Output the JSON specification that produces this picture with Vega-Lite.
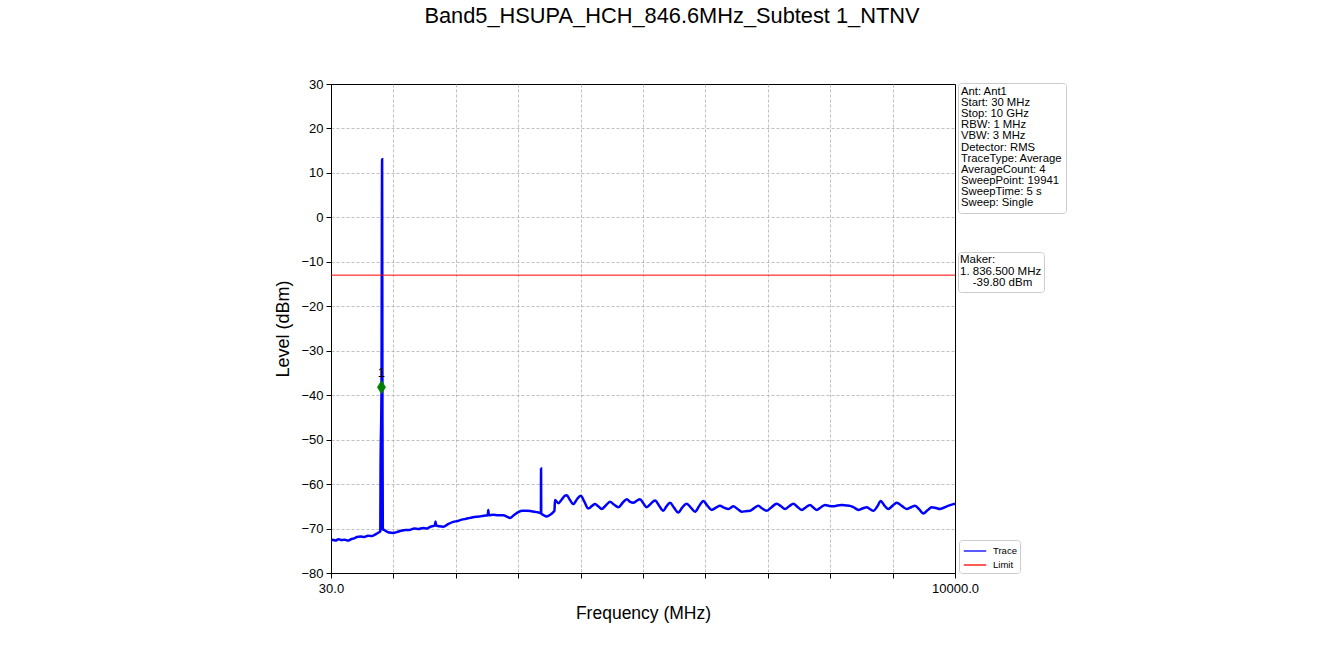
{
  "$schema": "https://vega.github.io/schema/vega-lite/v6.json",
  "width": 624,
  "height": 489,
  "autosize": {"type": "none"},
  "padding": {"left": 331, "top": 84, "right": 389, "bottom": 94},
  "background": "white",
  "title": {
    "text": "Band5_HSUPA_HCH_846.6MHz_Subtest 1_NTNV",
    "font": "Liberation Sans",
    "fontSize": 21.8,
    "fontWeight": "normal",
    "color": "black",
    "anchor": "middle",
    "frame": "group",
    "baseline": "middle",
    "dx": 29,
    "offset": 40
  },
  "config": {
    "view": {"stroke": "black", "strokeWidth": 1},
    "font": "Liberation Sans",
    "axis": {
      "labelFont": "Liberation Sans",
      "titleFont": "Liberation Sans",
      "labelColor": "black",
      "titleColor": "black",
      "labelFontSize": 13,
      "titleFontWeight": "normal",
      "domainColor": "black",
      "tickColor": "black",
      "tickSize": 5,
      "gridColor": "#b0b0b0",
      "gridDash": [3, 2],
      "gridWidth": 0.8,
      "labelOverlap": false,
      "labelFlush": false,
      "labelBound": false
    },
    "legend": {
      "labelFont": "Liberation Sans",
      "titleFont": "Liberation Sans",
      "labelColor": "black",
      "titleColor": "black",
      "orient": "none",
      "strokeColor": "#cccccc",
      "fillColor": "white",
      "cornerRadius": 3
    }
  },
  "layer": [
    {
      "data": {"values": [
        {"f":30,"level":-72.8},{"f":60,"level":-72.5},{"f":100,"level":-72.7},{"f":150,"level":-72.4},{"f":200,"level":-72.6},{"f":250,"level":-72.5},{"f":300,"level":-72.7},{"f":350,"level":-72.4},{"f":400,"level":-72.2},{"f":445,"level":-71.9},{"f":500,"level":-71.8},{"f":560,"level":-71.9},{"f":620,"level":-71.6},{"f":680,"level":-71.7},{"f":740,"level":-71.3},{"f":790,"level":-70.9},{"f":818,"level":-70.6},{"f":822,"level":-56.5},{"f":836.5,"level":-39.8},{"f":846.6,"level":13.1},{"f":852,"level":-45},{"f":858,"level":-70.2},{"f":880,"level":-70.3},{"f":910,"level":-70.6},{"f":960,"level":-70.9},{"f":1025,"level":-71.0},{"f":1080,"level":-70.8},{"f":1150,"level":-70.5},{"f":1220,"level":-70.3},{"f":1290,"level":-70.3},{"f":1360,"level":-70.0},{"f":1430,"level":-70.1},{"f":1500,"level":-69.9},{"f":1560,"level":-70.0},{"f":1620,"level":-69.6},{"f":1690,"level":-69.3},{"f":1700,"level":-68.4},{"f":1710,"level":-69.3},{"f":1760,"level":-69.5},{"f":1825,"level":-69.6},{"f":1900,"level":-69.0},{"f":1984,"level":-68.5},{"f":2050,"level":-68.3},{"f":2120,"level":-68.0},{"f":2190,"level":-67.8},{"f":2251,"level":-67.6},{"f":2320,"level":-67.4},{"f":2400,"level":-67.3},{"f":2470,"level":-67.1},{"f":2535,"level":-67.0},{"f":2543,"level":-65.8},{"f":2552,"level":-67.0},{"f":2620,"level":-66.9},{"f":2700,"level":-67.0},{"f":2784,"level":-67.0},{"f":2840,"level":-67.3},{"f":2890,"level":-67.6},{"f":2950,"level":-67.0},{"f":3023,"level":-66.3},{"f":3090,"level":-66.0},{"f":3157,"level":-66.0},{"f":3230,"level":-66.1},{"f":3316,"level":-66.3},{"f":3370,"level":-66.5},{"f":3384,"level":-66.6},{"f":3386,"level":-56.5},{"f":3389,"level":-66.6},{"f":3430,"level":-67.0},{"f":3476,"level":-67.3},{"f":3520,"level":-67.0},{"f":3582,"level":-66.3},{"f":3600,"level":-66.0},{"f":3609,"level":-63.6},{"f":3662,"level":-64.3},{"f":3720,"level":-63.4},{"f":3769,"level":-62.6},{"f":3796,"level":-62.5},{"f":3849,"level":-63.6},{"f":3902,"level":-64.5},{"f":3960,"level":-63.4},{"f":4020,"level":-62.6},{"f":4080,"level":-64.0},{"f":4141,"level":-65.5},{"f":4200,"level":-64.9},{"f":4248,"level":-64.5},{"f":4300,"level":-65.0},{"f":4355,"level":-65.6},{"f":4420,"level":-64.8},{"f":4488,"level":-64.0},{"f":4550,"level":-64.6},{"f":4621,"level":-65.2},{"f":4690,"level":-64.2},{"f":4755,"level":-63.4},{"f":4810,"level":-64.0},{"f":4860,"level":-64.2},{"f":4910,"level":-63.8},{"f":4967,"level":-63.4},{"f":5020,"level":-64.3},{"f":5074,"level":-65.2},{"f":5140,"level":-64.4},{"f":5207,"level":-63.7},{"f":5270,"level":-64.8},{"f":5340,"level":-66.0},{"f":5390,"level":-65.0},{"f":5447,"level":-64.2},{"f":5510,"level":-65.3},{"f":5579,"level":-66.4},{"f":5640,"level":-65.3},{"f":5713,"level":-64.4},{"f":5780,"level":-65.3},{"f":5846,"level":-66.2},{"f":5910,"level":-65.0},{"f":5979,"level":-63.8},{"f":6040,"level":-64.8},{"f":6113,"level":-65.8},{"f":6180,"level":-65.3},{"f":6245,"level":-64.9},{"f":6310,"level":-65.3},{"f":6378,"level":-65.6},{"f":6420,"level":-65.3},{"f":6458,"level":-65.0},{"f":6525,"level":-65.6},{"f":6592,"level":-66.2},{"f":6660,"level":-66.1},{"f":6725,"level":-66.0},{"f":6790,"level":-65.4},{"f":6857,"level":-64.9},{"f":6920,"level":-65.5},{"f":6991,"level":-66.0},{"f":7070,"level":-65.2},{"f":7151,"level":-64.4},{"f":7220,"level":-65.0},{"f":7284,"level":-65.6},{"f":7350,"level":-65.0},{"f":7417,"level":-64.4},{"f":7480,"level":-65.1},{"f":7551,"level":-65.8},{"f":7620,"level":-65.2},{"f":7683,"level":-64.7},{"f":7740,"level":-65.3},{"f":7790,"level":-65.8},{"f":7860,"level":-65.2},{"f":7923,"level":-64.7},{"f":7990,"level":-64.9},{"f":8056,"level":-65.0},{"f":8120,"level":-64.8},{"f":8190,"level":-64.7},{"f":8260,"level":-64.8},{"f":8323,"level":-64.9},{"f":8390,"level":-65.3},{"f":8456,"level":-65.8},{"f":8520,"level":-65.5},{"f":8590,"level":-65.2},{"f":8640,"level":-65.6},{"f":8696,"level":-66.0},{"f":8760,"level":-65.0},{"f":8813,"level":-63.8},{"f":8870,"level":-64.8},{"f":8935,"level":-65.6},{"f":9000,"level":-64.9},{"f":9069,"level":-64.2},{"f":9150,"level":-64.9},{"f":9229,"level":-65.6},{"f":9300,"level":-65.2},{"f":9361,"level":-64.9},{"f":9430,"level":-65.7},{"f":9494,"level":-66.6},{"f":9560,"level":-65.9},{"f":9628,"level":-65.2},{"f":9700,"level":-65.4},{"f":9761,"level":-65.6},{"f":9870,"level":-65.0},{"f":9974,"level":-64.5},{"f":10000,"level":-64.4}
      ]},
      "mark": {"type": "line", "strokeWidth": 2.5, "clip": true, "interpolate": "monotone"},
      "encoding": {
        "x": {
          "field": "f", "type": "quantitative",
          "scale": {"domain": [30, 10000], "nice": false, "zero": false},
          "axis": {
            "title": "Frequency (MHz)",
            "titleFontSize": 17.5,
            "titlePadding": 9,
            "labelPadding": 4,
            "values": [30, 1027, 2024, 3021, 4018, 5015, 6012, 7009, 8006, 9003, 10000],
            "labelExpr": "datum.value == 30 ? '30.0' : (datum.value == 10000 ? '10000.0' : '')",
            "gridOpacity": {"condition": {"test": "datum.value == 30 || datum.value == 10000", "value": 0}, "value": 1}
          }
        },
        "y": {
          "field": "level", "type": "quantitative",
          "scale": {"domain": [-80, 30], "nice": false, "zero": false},
          "axis": {
            "title": "Level (dBm)",
            "titleFontSize": 18,
            "titlePadding": 8,
            "labelPadding": 3,
            "values": [-80, -70, -60, -50, -40, -30, -20, -10, 0, 10, 20, 30],
            "gridOpacity": {"condition": {"test": "datum.value == 30 || datum.value == -80", "value": 0}, "value": 1}
          }
        },
        "color": {
          "datum": "Trace",
          "type": "nominal",
          "scale": {"domain": ["Trace", "Limit"], "range": ["#0000ff", "#ff0000"]},
          "legend": {
            "title": null,
            "legendX": 628,
            "legendY": 456,
            "symbolType": "M-1.6,0L1.6,0",
            "symbolSize": 196,
            "symbolStrokeWidth": 1.3,
            "labelFontSize": 9.5,
            "labelOffset": 10,
            "symbolOffset": 5,
            "padding": 3,
            "rowPadding": 1
          }
        }
      }
    },
    {
      "data": {"values": [{"limit": -13}]},
      "mark": {"type": "rule", "strokeWidth": 1},
      "encoding": {
        "y": {"field": "limit", "type": "quantitative"},
        "color": {"datum": "Limit", "type": "nominal"}
      }
    },
    {
      "data": {"values": [{"f": 836.5, "level": -38.2, "label": "1"}]},
      "layer": [
        {
          "mark": {"type": "point", "shape": "M0,-1L0.62,0L0,1L-0.62,0Z", "filled": true, "fill": "#008000", "stroke": "#008000", "strokeWidth": 0.5, "size": 180, "opacity": 1},
          "encoding": {
            "x": {"field": "f", "type": "quantitative"},
            "y": {"field": "level", "type": "quantitative"}
          }
        },
        {
          "mark": {"type": "text", "dy": -14, "fontSize": 13, "color": "black", "font": "Liberation Sans"},
          "encoding": {
            "x": {"field": "f", "type": "quantitative"},
            "y": {"field": "level", "type": "quantitative"},
            "text": {"field": "label"}
          }
        }
      ]
    },
    {
      "data": {"values": [{"box": "settings"}]},
      "mark": {"type": "point", "opacity": 0},
      "encoding": {
        "shape": {
          "field": "box", "type": "nominal",
          "legend": {
            "title": ["Ant: Ant1", "Start: 30 MHz", "Stop: 10 GHz", "RBW: 1 MHz", "VBW: 3 MHz", "Detector: RMS", "TraceType: Average", "AverageCount: 4", "SweepPoint: 19941", "SweepTime: 5 s", "Sweep: Single"],
            "titleFontSize": 11.3,
            "titleFontWeight": "normal",
            "titleLineHeight": 11.1,
            "titlePadding": 0,
            "titleLimit": 400,
            "legendX": 627,
            "legendY": -1,
            "symbolSize": 0,
            "symbolOpacity": 0,
            "labelExpr": "''",
            "labelFontSize": 1,
            "padding": 3
          }
        }
      }
    },
    {
      "data": {"values": [{"mk": "marker"}]},
      "mark": {"type": "point", "opacity": 0},
      "encoding": {
        "fill": {
          "field": "mk", "type": "nominal",
          "scale": {"range": ["white"]},
          "legend": {
            "title": ["Maker:", "1. 836.500 MHz", "\u200b\u00a0\u00a0\u00a0\u00a0-39.80 dBm"],
            "titleFontSize": 11.5,
            "titleFontWeight": "normal",
            "titleLineHeight": 11.5,
            "titlePadding": 0,
            "titleLimit": 400,
            "legendX": 627,
            "legendY": 168,
            "symbolSize": 0,
            "symbolOpacity": 0,
            "labelExpr": "''",
            "labelFontSize": 1,
            "padding": 2
          }
        }
      }
    }
  ]
}
